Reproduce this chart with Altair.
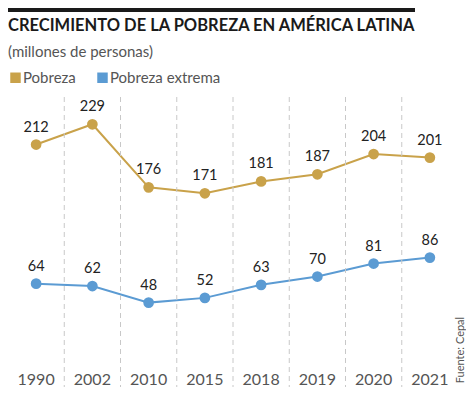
import altair as alt
import pandas as pd

years = ["1990", "2002", "2010", "2015", "2018", "2019", "2020", "2021"]
pobreza = [212, 229, 176, 171, 181, 187, 204, 201]
pobreza_extrema = [64, 62, 48, 52, 63, 70, 81, 86]
series = ["Pobreza", "Pobreza extrema"]
colors = ["#C9A24A", "#5B9BD3"]
title_text = "CRECIMIENTO DE LA POBREZA EN AMÉRICA LATINA"
subtitle_text = "(millones de personas)"
source_text = "Fuente: Cepal"

df = pd.DataFrame({
    "year": years * 2,
    "value": pobreza + pobreza_extrema,
    "serie": [series[0]] * len(years) + [series[1]] * len(years),
})
grid_df = pd.DataFrame({"year": years[1:]})
src_df = pd.DataFrame({"t": [source_text]})
bar_df = pd.DataFrame({"k": [0]})

x = alt.X(
    "year:N", sort=years,
    scale=alt.Scale(type="band", paddingInner=0, paddingOuter=0),
    axis=alt.Axis(title=None, labelAngle=0, ticks=False, domain=False, grid=False,
                  labelPadding=1, labelFont="Lato",
                  labelFontSize=16, labelColor="#555555"),
)
y = alt.Y(
    "value:Q",
    scale=alt.Scale(domain=[40, 100, 150, 240], range=[215.1, 144, 121.3, 14.2],
                    nice=False, zero=False),
    axis=None,
)
legend = alt.Legend(
    title=None, orient="none", legendX=0, legendY=-27, direction="horizontal",
    symbolType="square", symbolSize=110, symbolStrokeWidth=0,
    labelFont="Lato", labelFontSize=15, labelColor="#555555", labelOffset=0,
    columnPadding=19,
)
color = alt.Color("serie:N", scale=alt.Scale(domain=series, range=colors), legend=legend)

line = alt.Chart(df).mark_line(strokeWidth=2).encode(x=x, y=y, color=color)

grid = alt.Chart(grid_df).mark_rule(color="#c8c8c8", strokeDash=[5, 4], strokeWidth=1,
                                    xOffset=-28.125).encode(
    x=alt.X("year:N", sort=years),
    y=alt.value(0),
    y2=alt.value(290),
)

points = alt.Chart(df).mark_point(filled=True, size=115, opacity=1, shape="circle").encode(
    x=x, y=y, color=color,
)

labels = alt.Chart(df).mark_text(dy=-17, font="Lato", fontSize=14.5, color="#222222").encode(
    x=x, y=y, text="value:Q",
)

src = alt.Chart(src_df).mark_text(angle=270, font="Lato", fontSize=11, color="#555555",
                                  align="center", baseline="middle").encode(
    x=alt.value(453), y=alt.value(253), text="t:N",
)

topbar = alt.Chart(bar_df).mark_rule(color="#1a1a1a", strokeWidth=4).encode(
    x=alt.value(0), x2=alt.value(407), y=alt.value(-87),
)

chart = alt.layer(line, grid, points, labels, src, topbar).properties(
    width=450, height=273,
    padding={"left": 0, "top": 89, "right": 8, "bottom": 17},
    autosize=alt.AutoSizeParams(type="none"),
    title=alt.Title(
        title_text, subtitle=subtitle_text, anchor="start", frame="group",
        font="Lato", fontSize=16.5, fontWeight="bold", color="#1a1a1a",
        subtitleFont="Lato", subtitleFontSize=15, subtitleColor="#555555",
        subtitlePadding=11, offset=-52,
    ),
).configure_view(stroke=None)

chart.save("out.html", embed_options={"renderer": "svg", "actions": False})
